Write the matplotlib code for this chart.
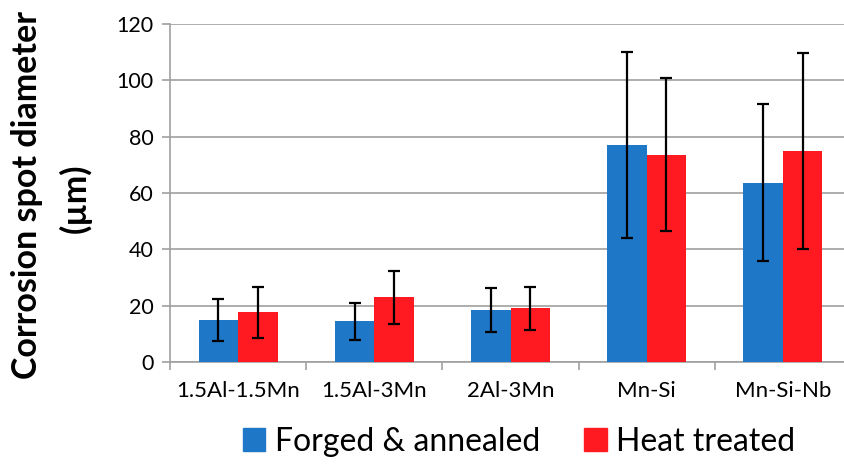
import numpy as np
import matplotlib
matplotlib.use('Agg')
import matplotlib.pyplot as plt
from matplotlib.patches import Patch

plt.rcParams['font.family'] = ['Lato', 'DejaVu Sans']

alloys = ['1.5Al-1.5Mn', '1.5Al-3Mn', '2Al-3Mn', 'Mn-Si', 'Mn-Si-Nb']
forged_mean = [15.0, 14.4, 18.3, 77.0, 63.7]
forged_err = [7.5, 6.5, 7.8, 33.0, 27.8]
heat_mean = [17.6, 22.9, 19.0, 73.6, 75.0]
heat_err = [9.2, 9.5, 7.8, 27.2, 34.8]

blue = '#1f77c8'
red = '#ff1a22'
grey = '#a0a0a0'

fig = plt.figure(figsize=(8.44, 4.66), dpi=100)
ax = fig.add_axes([170 / 844, 1 - 362 / 466, 681 / 844, 338 / 466])

x = np.arange(len(alloys))
w = 0.29
err_kw = dict(ecolor='black', elinewidth=1.6, capsize=4, capthick=1.6)
ax.bar(x - w / 2, forged_mean, w, yerr=forged_err, color=blue,
       error_kw=err_kw, zorder=3, label='Forged & annealed')
ax.bar(x + w / 2, heat_mean, w, yerr=heat_err, color=red,
       error_kw=err_kw, zorder=3, label='Heat treated')

ax.set_xlim(-0.5, len(alloys) - 0.5)
ax.set_ylim(0, 120)
ax.set_yticks(np.arange(0, 121, 20))
ax.yaxis.grid(True, color=grey, linewidth=1.2, zorder=0)
ax.set_axisbelow(True)

# category labels sit between the boundary ticks
ax.set_xticks(np.arange(-0.5, len(alloys), 1.0))
ax.set_xticklabels([])
ax.set_xticks(x, minor=True)
ax.set_xticklabels(alloys, minor=True, fontsize=16)
ax.tick_params(axis='x', which='minor', length=0, pad=14)
ax.tick_params(axis='x', which='major', length=6, width=1.2, color=grey)
ax.tick_params(axis='y', length=6, width=1.2, color=grey, labelsize=15.5, pad=6)

for side in ['top', 'right']:
    ax.spines[side].set_visible(False)
for side in ['left', 'bottom']:
    ax.spines[side].set_color(grey)
    ax.spines[side].set_linewidth(1.2)

fig.text(0.032, 0.582, 'Corrosion spot diameter', rotation=90, ha='center',
         va='center', fontsize=24.5, fontweight='bold')
fig.text(0.089, 0.575, '(µm)', rotation=90, ha='center', va='center',
         fontsize=24.5, fontweight='bold')

handles = [Patch(color=blue, label='Forged & annealed'),
           Patch(color=red, label='Heat treated')]
fig.legend(handles=handles, loc='center', bbox_to_anchor=(0.615, 0.052), ncol=2,
           frameon=False, fontsize=23, handlelength=0.7, handleheight=0.7,
           handletextpad=0.3, columnspacing=1.4)

fig.savefig('out.png', dpi=100)
